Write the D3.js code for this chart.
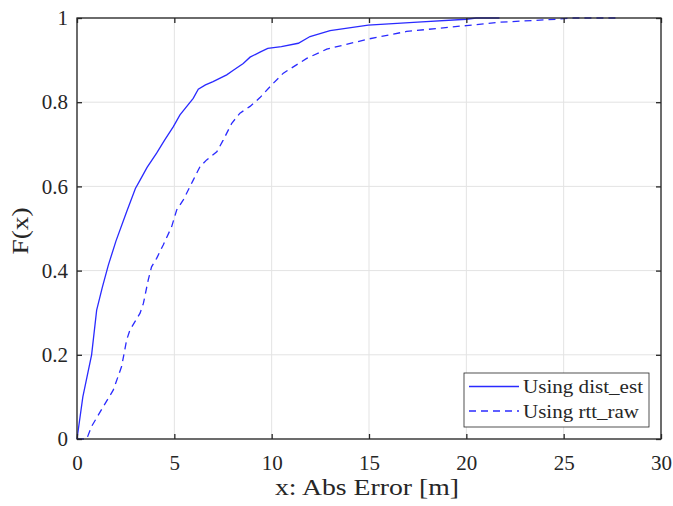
<!DOCTYPE html>
<html>
<head>
<meta charset="utf-8">
<script src="https://cdn.jsdelivr.net/npm/d3@7"></script>
<style>
  html, body { margin: 0; padding: 0; background: #fff; }
  svg { display: block; }
  text { font-family: "Liberation Serif", "DejaVu Serif", serif; fill: #262626; }
</style>
</head>
<body>
<svg id="chart" width="673" height="506"></svg>
<script>
// Empirical CDF of absolute ranging error, two estimators
const distEstX = [0, 0.3, 0.75, 1.01, 1.3, 1.61, 2.0, 2.55, 3.0, 3.24, 3.6, 4.09, 4.5, 4.95, 5.29, 5.97, 6.23, 6.6, 6.99, 7.69, 8.03, 8.54, 8.89, 9.4, 9.8, 10.5, 11.37, 11.97, 13.0, 14.96, 17.5, 20.0, 20.5, 21.7];
const distEstF = [0, 0.1, 0.2, 0.306, 0.36, 0.413, 0.47, 0.54, 0.595, 0.615, 0.645, 0.679, 0.71, 0.742, 0.77, 0.809, 0.831, 0.841, 0.849, 0.865, 0.876, 0.892, 0.907, 0.919, 0.928, 0.932, 0.94, 0.956, 0.97, 0.983, 0.99, 0.997, 1, 1];

const rttRawX = [0, 0.5, 0.75, 1.35, 1.86, 2.29, 2.55, 2.72, 3.24, 3.41, 3.66, 3.83, 4.09, 4.43, 4.86, 5.12, 5.46, 5.97, 6.32, 6.66, 7.18, 7.51, 7.95, 8.37, 8.89, 9.4, 10.0, 10.6, 11.8, 12.83, 14.96, 16.93, 20.0, 21.7, 23.4, 24.6, 25.5, 27.7];
const rttRawF = [0, 0, 0.03, 0.077, 0.116, 0.172, 0.235, 0.259, 0.299, 0.322, 0.378, 0.409, 0.429, 0.461, 0.504, 0.544, 0.568, 0.615, 0.647, 0.663, 0.682, 0.71, 0.75, 0.774, 0.79, 0.811, 0.841, 0.869, 0.904, 0.926, 0.95, 0.968, 0.982, 0.99, 0.994, 0.997, 1, 1];

const xTicks = [0, 5, 10, 15, 20, 25, 30];
const yTicks = [0, 0.2, 0.4, 0.6, 0.8, 1];
const yTickLabels = ["0", "0.2", "0.4", "0.6", "0.8", "1"];

const seriesNames = ["Using dist_est", "Using rtt_raw"];

const pLeft = 77, pRight = 661, pTop = 18, pBottom = 439;
const svg = d3.select("#chart");

const x = d3.scaleLinear().domain([0, 30]).range([pLeft, pRight]);
const y = d3.scaleLinear().domain([0, 1]).range([pBottom, pTop]);

// grid
const grid = svg.append("g");
grid.selectAll(".gx").data(xTicks).join("line")
  .attr("x1", d => x(d)).attr("x2", d => x(d))
  .attr("y1", pTop).attr("y2", pBottom)
  .attr("stroke", "#e3e3e3").attr("stroke-width", 1);
grid.selectAll(".gy").data(yTicks).join("line")
  .attr("x1", pLeft).attr("x2", pRight)
  .attr("y1", d => y(d)).attr("y2", d => y(d))
  .attr("stroke", "#e3e3e3").attr("stroke-width", 1);

// curves
const line = d3.line().x(d => x(d[0])).y(d => y(d[1]));
const solidPts = distEstX.map((v, i) => [v, distEstF[i]]);
const dashPts = rttRawX.map((v, i) => [v, rttRawF[i]]);

svg.append("path").datum(solidPts).attr("d", line)
  .attr("fill", "none").attr("stroke", "#2a2aff").attr("stroke-width", 1.3);
svg.append("path").datum(dashPts).attr("d", line)
  .attr("fill", "none").attr("stroke", "#2a2aff").attr("stroke-width", 1.3)
  .attr("stroke-dasharray", "7,5");

// axes with inward ticks (box on)
const tl = 5;
const axBottom = d3.axisBottom(x).tickValues(xTicks).tickSize(-tl).tickPadding(16).tickFormat(d3.format("d"));
const axTop = d3.axisTop(x).tickValues(xTicks).tickSize(-tl).tickFormat("");
const axLeft = d3.axisLeft(y).tickValues(yTicks).tickSize(-tl).tickPadding(9)
  .tickFormat((d, i) => yTickLabels[i]);
const axRight = d3.axisRight(y).tickValues(yTicks).tickSize(-tl).tickFormat("");

function styleAxis(g) {
  g.select(".domain").remove();
  g.selectAll(".tick line").attr("stroke", "#262626").attr("stroke-width", 1.3);
  g.selectAll(".tick text").attr("fill", "#262626").style("font-size", "21px")
    .style("font-family", '"Liberation Serif", "DejaVu Serif", serif');
}
svg.append("g").attr("transform", `translate(0,${pBottom})`).call(axBottom).call(styleAxis);
svg.append("g").attr("transform", `translate(0,${pTop})`).call(axTop).call(styleAxis);
svg.append("g").attr("transform", `translate(${pLeft},0)`).call(axLeft).call(styleAxis);
svg.append("g").attr("transform", `translate(${pRight},0)`).call(axRight).call(styleAxis);
svg.append("rect").attr("x", pLeft).attr("y", pTop)
  .attr("width", pRight - pLeft).attr("height", pBottom - pTop)
  .attr("fill", "none").attr("stroke", "#262626").attr("stroke-width", 1.3);

// axis titles
svg.append("text").attr("x", 367).attr("y", 495)
  .attr("text-anchor", "middle").style("font-size", "23px")
  .attr("textLength", 184).attr("lengthAdjust", "spacingAndGlyphs")
  .text("x:  Abs Error [m]");
svg.append("text").attr("transform", `translate(28,231) rotate(-90)`)
  .attr("text-anchor", "middle").style("font-size", "23px")
  .attr("textLength", 47).attr("lengthAdjust", "spacingAndGlyphs")
  .text("F(x)");

// legend
const lg = svg.append("g");
lg.append("rect").attr("x", 464).attr("y", 373).attr("width", 185).attr("height", 54)
  .attr("fill", "#fff").attr("stroke", "#262626").attr("stroke-width", 0.8);
const rows = [
  { name: seriesNames[0], dash: null, yy: 386.5, w: 120 },
  { name: seriesNames[1], dash: "7,5", yy: 411, w: 116 }
];
rows.forEach(r => {
  lg.append("line").attr("x1", 469).attr("x2", 519).attr("y1", r.yy).attr("y2", r.yy)
    .attr("stroke", "#2a2aff").attr("stroke-width", 1.3)
    .attr("stroke-dasharray", r.dash);
  lg.append("text").attr("x", 523).attr("y", r.yy + 6.5).style("font-size", "19px")
    .attr("textLength", r.w).attr("lengthAdjust", "spacingAndGlyphs")
    .text(r.name);
});
</script>
</body>
</html>
